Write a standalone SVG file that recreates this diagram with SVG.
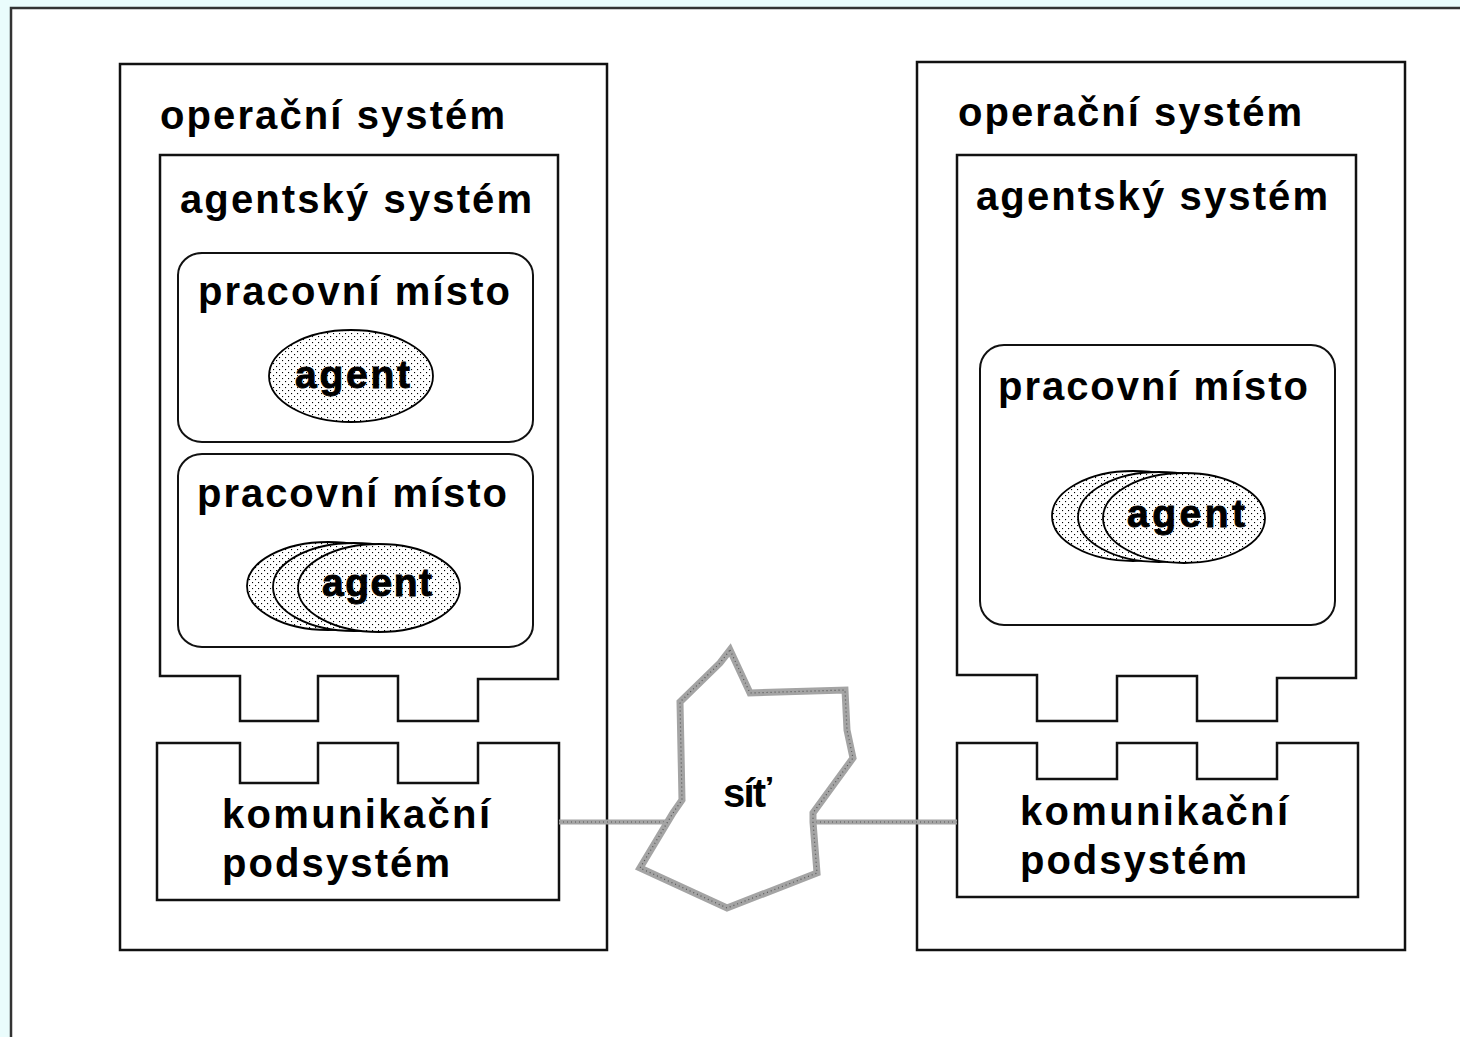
<svg xmlns="http://www.w3.org/2000/svg" width="1460" height="1037" viewBox="0 0 1460 1037">
<defs>
<style>
.bg{fill:#eafcfc}
.frame{fill:#fff;stroke:#333;stroke-width:2.5}
.box{fill:#fff;stroke:#111;stroke-width:2.5}
.ws{fill:#fff;stroke:#111;stroke-width:2}
.ag{fill:url(#agentDots);stroke:#000;stroke-width:1.8}
.lbl{font-family:"Liberation Sans",Arial,sans-serif;font-weight:bold;font-size:40px;fill:#000}
.agt{font-family:"Liberation Sans",Arial,sans-serif;font-weight:bold;font-size:39px;fill:#000;stroke:#000;stroke-width:0.9}
.net{fill:#fff;stroke:#a4a4a4;stroke-width:7;stroke-linejoin:miter}
.link{fill:none;stroke:#a4a4a4;stroke-width:5}
.dots{fill:none;stroke:#555;stroke-width:1.2;stroke-dasharray:1 3}
</style>
<pattern id="agentDots" width="6" height="6" patternUnits="userSpaceOnUse">
<rect width="6" height="6" fill="#fff"/>
<rect x="0" y="0" width="1.1" height="1.1" fill="#000"/>
<rect x="3" y="3" width="1.1" height="1.1" fill="#000"/>
</pattern>
</defs>
<rect class="bg" x="0" y="0" width="1460" height="1037"/>
<rect class="frame" x="11" y="8" width="1460" height="1040"/>

<g id="os-left">
<rect class="box" x="120" y="64" width="487" height="886"/>
<text class="lbl" x="160" y="129" textLength="345" lengthAdjust="spacing">operační systém</text>
</g>
<g id="as-left">
<path class="box" d="M160,155 H558 V679 H478 V721 H398 V676 H318 V721 H240 V676 H160 Z"/>
<text class="lbl" x="180" y="213" textLength="352" lengthAdjust="spacing">agentský systém</text>
</g>
<g id="ws-left-1">
<rect class="ws" x="178" y="253" width="355" height="189" rx="24" ry="22"/>
<text class="lbl" x="198" y="305" textLength="312" lengthAdjust="spacing">pracovní místo</text>
</g>
<g id="agent-left-1">
<ellipse class="ag" cx="351" cy="376" rx="82" ry="46"/>
<text class="agt" x="295" y="388" textLength="115" lengthAdjust="spacing">agent</text>
</g>
<g id="ws-left-2">
<rect class="ws" x="178" y="454" width="355" height="193" rx="24" ry="22"/>
<text class="lbl" x="197" y="507" textLength="310" lengthAdjust="spacing">pracovní místo</text>
</g>
<g id="agents-left-2">
<ellipse class="ag" cx="328" cy="586" rx="81" ry="44"/>
<ellipse class="ag" cx="354" cy="587" rx="81" ry="44"/>
<ellipse class="ag" cx="379" cy="588" rx="81" ry="44"/>
<text class="agt" x="322" y="596" textLength="110" lengthAdjust="spacing">agent</text>
</g>
<g id="comm-left">
<path class="box" d="M157,743 H240 V783 H318 V743 H398 V783 H478 V743 H559 V900 H157 Z"/>
<text class="lbl" x="222" y="828" textLength="268" lengthAdjust="spacing">komunikační</text>
<text class="lbl" x="222" y="877" textLength="228" lengthAdjust="spacing">podsystém</text>
</g>

<g id="os-right">
<rect class="box" x="917" y="62" width="488" height="888"/>
<text class="lbl" x="958" y="126" textLength="344" lengthAdjust="spacing">operační systém</text>
</g>
<g id="as-right">
<path class="box" d="M957,155 H1356 V678 H1277 V721 H1197 V676 H1117 V721 H1037 V675 H957 Z"/>
<text class="lbl" x="976" y="210" textLength="352" lengthAdjust="spacing">agentský systém</text>
</g>
<g id="ws-right">
<rect class="ws" x="980" y="345" width="355" height="280" rx="24" ry="24"/>
<text class="lbl" x="998" y="400" textLength="310" lengthAdjust="spacing">pracovní místo</text>
</g>
<g id="agents-right">
<ellipse class="ag" cx="1133" cy="516" rx="81" ry="45"/>
<ellipse class="ag" cx="1159" cy="517" rx="81" ry="45"/>
<ellipse class="ag" cx="1184" cy="518" rx="81" ry="45"/>
<text class="agt" x="1127" y="527" textLength="118" lengthAdjust="spacing">agent</text>
</g>
<g id="comm-right">
<path class="box" d="M957,743 H1037 V779 H1117 V743 H1197 V779 H1277 V743 H1358 V897 H957 Z"/>
<text class="lbl" x="1020" y="825" textLength="268" lengthAdjust="spacing">komunikační</text>
<text class="lbl" x="1020" y="874" textLength="227" lengthAdjust="spacing">podsystém</text>
</g>

<g id="connectors">
<line class="link" x1="559" y1="822" x2="676" y2="822"/>
<line class="dots" x1="559" y1="822" x2="676" y2="822"/>
<line class="link" x1="812" y1="822" x2="957" y2="822"/>
<line class="dots" x1="812" y1="822" x2="957" y2="822"/>
</g>
<g id="network">
<path class="net" d="M730,650 L750,693 L845,690 L847,730 L853,758 L813,813 L813,822 L817,873 L727,908 L640,868 L673,813 L682,800 L680,702 L720,663 Z"/>
<path class="dots" d="M730,650 L750,693 L845,690 L847,730 L853,758 L813,813 L813,822 L817,873 L727,908 L640,868 L673,813 L682,800 L680,702 L720,663 Z"/>
<text class="lbl" x="723" y="807" textLength="49" lengthAdjust="spacing">síť</text>
</g>
</svg>
